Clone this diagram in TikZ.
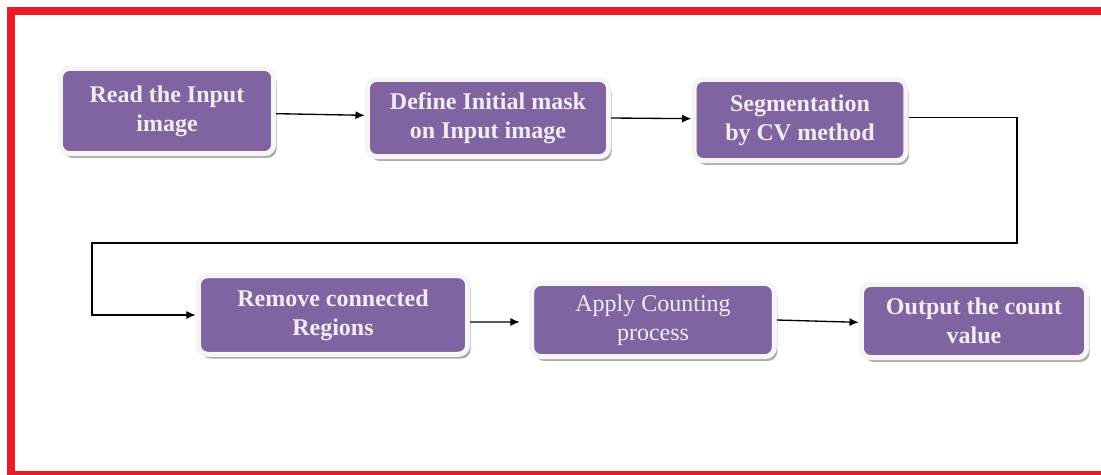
\documentclass[tikz,border=0pt]{standalone}
\usepackage{fontspec}
\setmainfont{Liberation Serif}
\usetikzlibrary{arrows.meta,shadows}
\definecolor{boxfill}{HTML}{8064A2}
\definecolor{boxtext}{HTML}{F2ECF0}
\definecolor{redline}{HTML}{ED1C24}
\tikzset{stage/.style={draw=gray!8,line width=3.8pt,fill=boxfill,rounded corners=7pt,text=boxtext,align=center,
  font=\fontsize{18}{21.75}\selectfont\bfseries,drop shadow={shadow xshift=2.2pt,shadow yshift=-3.2pt,fill=gray!65,opacity=1}},
 plain/.style={font=\fontsize{18}{21.75}\selectfont},
 flow/.style={-{Latex[length=7pt,width=6pt]},line width=1pt},redframe/.style={draw=redline,line width=6pt}}
\begin{document}
\begin{tikzpicture}[x=.75pt,y=-.75pt]
\useasboundingbox (0,0) rectangle (1101,475);
\clip (0,0) rectangle (1101,475);
\fill[white] (0,0) rectangle (1101,475);
\draw[redframe] (1120,11) -- (11,11) -- (11,475) -- (1120,475);
% first row
\node[stage,minimum width=160pt,minimum height=64pt] (read) at (167,111){Read the Input\\image};
\node[stage,minimum width=181pt,minimum height=58pt] (mask) at (488,118){Define Initial mask\\on Input image};
\node[stage,minimum width=159pt,minimum height=61pt] (seg) at (800,120){Segmentation\\by CV method};
% second row
\node[stage,minimum width=202pt,minimum height=59pt] (remove) at (333,315){Remove connected\\Regions};
\node[stage,plain,minimum width=182pt,minimum height=55pt] (count) at (653,320){Apply Counting\\process};
\node[stage,minimum width=169pt,minimum height=55pt] (out) at (974,321){Output the count\\value};
\coordinate (turnR) at (1017,243);\coordinate (turnL) at (92,243);
\draw[flow]([yshift=-2pt]read.east)--([yshift=2pt]mask.west);
\draw[flow](mask.east)--([yshift=1pt]seg.west);
\draw[flow]([yshift=2pt]seg.east)-|(turnR)--(turnL)|-(remove.west);
\draw[flow]([yshift=-5.2pt]remove.east)--([xshift=-7pt,yshift=-1.5pt]count.west);
\draw[flow](count.east)--([yshift=-1pt]out.west);
\end{tikzpicture}
\end{document}
